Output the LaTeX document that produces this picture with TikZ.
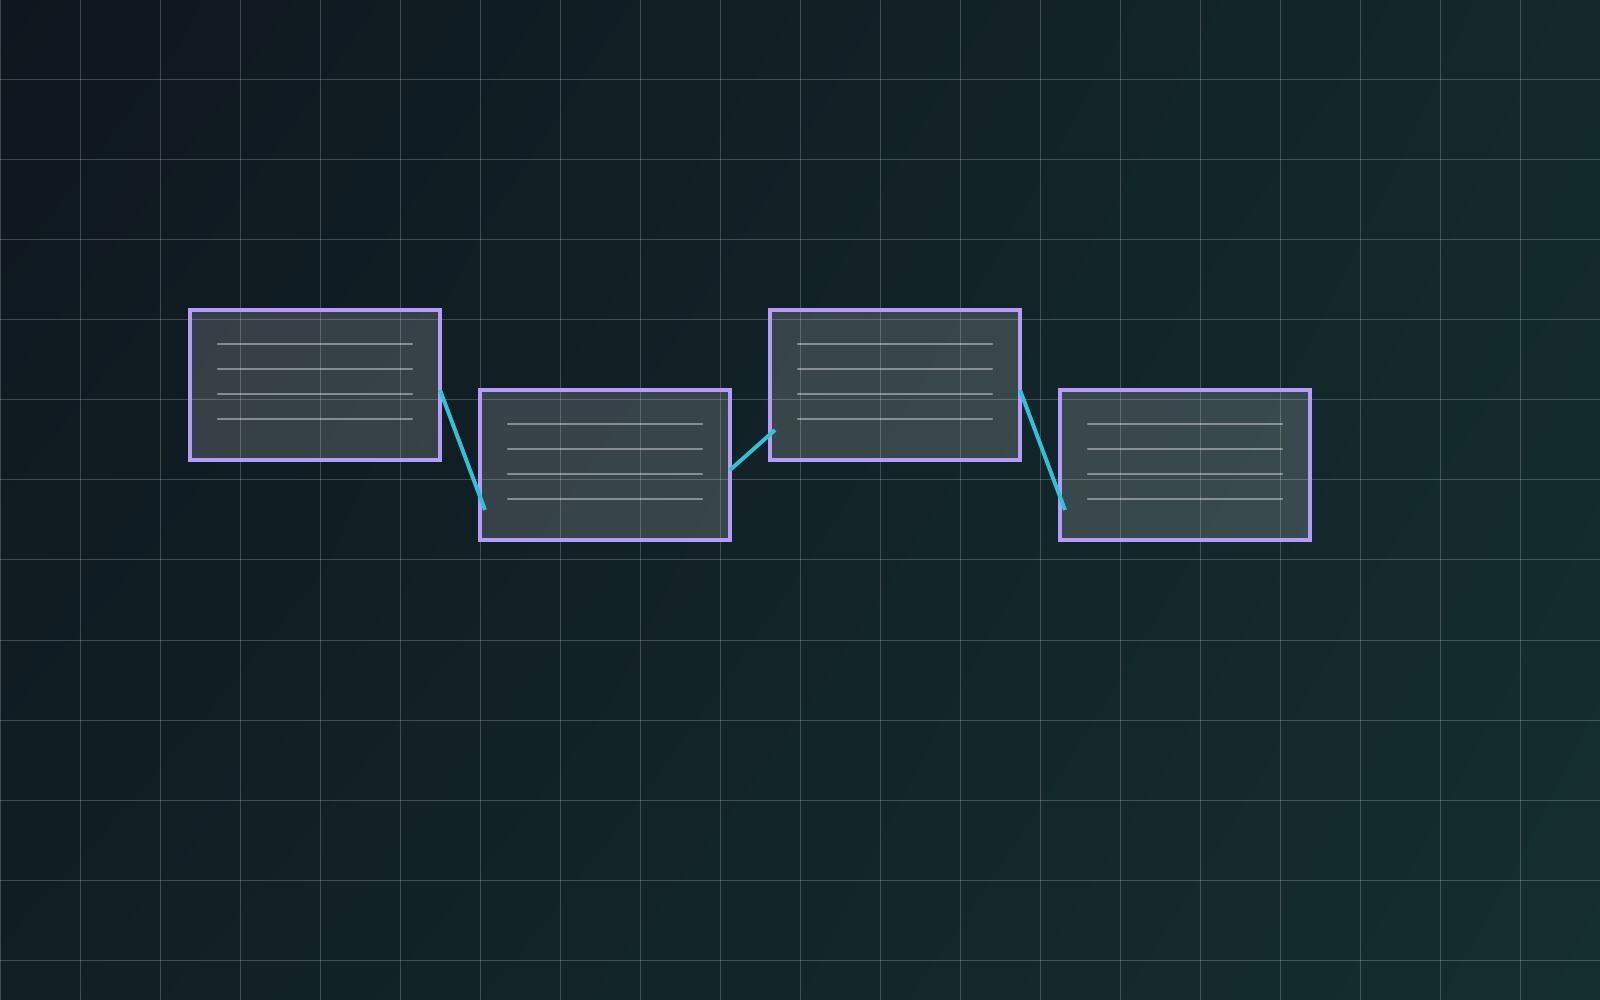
\documentclass[tikz,border=0pt]{standalone}
\usepackage{tikz}
\usetikzlibrary{positioning, shadings}
\definecolor{bgdark}{RGB}{15, 22, 31}
\definecolor{bgteal}{RGB}{21, 46, 47}
\definecolor{bgmidA}{RGB}{19, 41, 43}
\definecolor{bgmidB}{RGB}{16, 31, 36}
\definecolor{lavender}{RGB}{180, 156, 250}
\definecolor{cyanlink}{RGB}{45, 196, 216}

\begin{document}
\begin{tikzpicture}[
    node distance=0.5cm,
    cardbox/.style={
        draw=lavender, line width=1.3pt, fill=white, fill opacity=0.16,
        draw opacity=1, minimum width=3.125cm, minimum height=1.875cm,
        inner sep=0pt, outer sep=0pt
    },
    textrule/.style={draw=white, draw opacity=0.4, line width=0.8pt, line cap=round},
    gridline/.style={draw=white, draw opacity=0.2, line width=0.35pt},
    link/.style={cyanlink, line width=1.4pt}
]

% BACKGROUND
\useasboundingbox (0,0) rectangle (20,12.5);
\shade[upper left=bgdark, upper right=bgmidA, lower left=bgmidB, lower right=bgteal]
    (0,0) rectangle (20,12.5);
\foreach \x in {0,...,20}
    \draw[gridline] (\x,0) -- (\x,12.5);
\foreach \y in {0,...,12}
    \draw[gridline] (0,12.5-\y) -- (20,12.5-\y);

% CARDS - first one at a coordinate, the rest zig-zag to the right
\node[cardbox] at (3.9375, 7.6875) (card1) {};
\node[cardbox, right=of card1, yshift=-1cm] (card2) {};
\node[cardbox, right=of card2, yshift=1cm] (card3) {};
\node[cardbox, right=of card3, yshift=-1cm] (card4) {};

% TEXT RULES inside each card
\foreach \c in {card1, card2, card3, card4}
    \foreach \k in {1,...,4}
        \draw[textrule] ([xshift=0.35cm, yshift=-0.1125cm-0.3125cm*\k]\c.north west)
            -- ([xshift=-0.35cm, yshift=-0.1125cm-0.3125cm*\k]\c.north east);

% LINKS between the cards
\draw[link] ([yshift=-0.0625cm]card1.east) -- ([xshift=0.0625cm, yshift=-0.5625cm]card2.west);
\draw[link] ([yshift=-0.0625cm]card2.east) -- ([xshift=0.0625cm, yshift=-0.5625cm]card3.west);
\draw[link] ([yshift=-0.0625cm]card3.east) -- ([xshift=0.0625cm, yshift=-0.5625cm]card4.west);

\end{tikzpicture}
\end{document}
